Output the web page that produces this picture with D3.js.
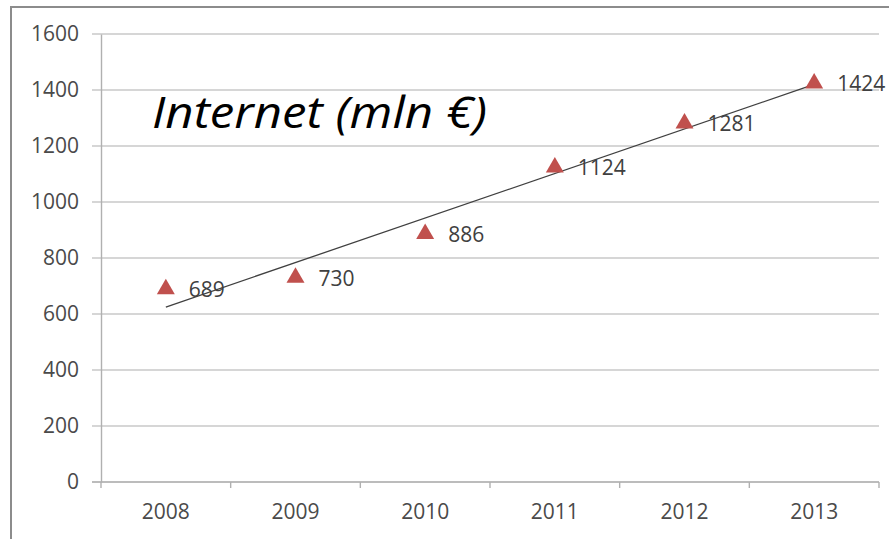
<html>
<head>
<meta charset="utf-8">
<title>Internet (mln €)</title>
<script src="https://cdn.jsdelivr.net/npm/d3@7"></script>
<style>
  body { margin: 0; background: #fff; }
  text { font-family: "Open Sans", sans-serif; }
</style>
</head>
<body>
<div id="chart"></div>
<script>
// data
var years = ["2008", "2009", "2010", "2011", "2012", "2013"];
var values = [689, 730, 886, 1124, 1281, 1424];
var yTicks = [0, 200, 400, 600, 800, 1000, 1200, 1400, 1600];
var title = "Internet (mln €)";

var width = 889, height = 539;
// plot area edges (note: "top" is reserved on window, so use other names)
var plotLeft = 101, plotRight = 879, plotTop = 34, plotBottom = 482;

var svg = d3.select("#chart").append("svg")
    .attr("width", width)
    .attr("height", height);

// outer frame (only top and left edges are visible, picture is cropped)
svg.append("path")
    .attr("d", "M11,540 L11,7 L890,7")
    .attr("fill", "none")
    .attr("stroke", "#8c8c8c")
    .attr("stroke-width", 2);

var x = d3.scaleBand().domain(years).range([plotLeft, plotRight]).padding(0);
var y = d3.scaleLinear().domain([0, 1600]).range([plotBottom, plotTop]);

// gridlines
svg.append("g").selectAll("line")
    .data(yTicks)
    .enter()
    .append("line")
    .attr("x1", plotLeft - 9)
    .attr("x2", plotRight)
    .attr("y1", function(d) { return y(d); })
    .attr("y2", function(d) { return y(d); })
    .attr("stroke", function(d) { return d == 0 ? "#a6a6a6" : "#c8c8c8"; })
    .attr("stroke-width", 1.6);

// y axis
var yAxis = svg.append("g")
    .attr("transform", "translate(" + plotLeft + ",0)")
    .call(d3.axisLeft(y).tickValues(yTicks).tickFormat(d3.format("d")).tickSize(0).tickPadding(22));
yAxis.select(".domain").attr("stroke", "#b0b0b0").attr("stroke-width", 1.4);
yAxis.selectAll("text")
    .attr("font-size", "21px")
    .attr("fill", "#4a4a4a")
    .attr("font-family", "Open Sans, sans-serif");

// x axis labels at band centers
var xAxis = svg.append("g")
    .attr("transform", "translate(0," + plotBottom + ")")
    .call(d3.axisBottom(x).tickSize(0).tickPadding(22));
xAxis.select(".domain").remove();
xAxis.selectAll("text")
    .attr("font-size", "21px")
    .attr("fill", "#4a4a4a")
    .attr("font-family", "Open Sans, sans-serif");

// x tick marks at category boundaries
var bounds = years.map(function(d) { return x(d); }).concat([x(years[years.length - 1]) + x.bandwidth()]);
svg.append("g").selectAll("line")
    .data(bounds)
    .enter()
    .append("line")
    .attr("x1", function(d) { return d; })
    .attr("x2", function(d) { return d; })
    .attr("y1", plotBottom)
    .attr("y2", plotBottom + 6)
    .attr("stroke", "#b0b0b0")
    .attr("stroke-width", 1.4);

// linear trend line (least squares over the points)
var n = values.length;
var mx = d3.mean(values, function(d, i) { return i; });
var my = d3.mean(values);
var sxy = d3.sum(values, function(d, i) { return (i - mx) * (d - my); });
var sxx = d3.sum(values, function(d, i) { return (i - mx) * (i - mx); });
var slope = sxy / sxx;
var icpt = my - slope * mx;
var cx = function(i) { return x(years[i]) + x.bandwidth() / 2; };

svg.append("line")
    .attr("x1", cx(0))
    .attr("y1", y(icpt))
    .attr("x2", cx(n - 1))
    .attr("y2", y(icpt + slope * (n - 1)))
    .attr("stroke", "#404040")
    .attr("stroke-width", 1.3);

// markers
svg.append("g").selectAll("path")
    .data(values)
    .enter()
    .append("path")
    .attr("d", d3.symbol().type(d3.symbolTriangle).size(140))
    .attr("transform", function(d, i) { return "translate(" + cx(i) + "," + y(d) + ")"; })
    .attr("fill", "#c0504d");

// data labels
svg.append("g").selectAll("text")
    .data(values)
    .enter()
    .append("text")
    .attr("x", function(d, i) { return cx(i) + 23; })
    .attr("y", function(d) { return y(d) + 8; })
    .attr("font-size", "21px")
    .attr("fill", "#404040")
    .text(function(d) { return d; });

// title
svg.append("text")
    .attr("x", 152)
    .attr("y", 128)
    .attr("font-size", "44px")
    .attr("font-style", "italic")
    .attr("fill", "#000")
    .attr("textLength", 335)
    .attr("lengthAdjust", "spacingAndGlyphs")
    .text(title);
</script>
</body>
</html>
